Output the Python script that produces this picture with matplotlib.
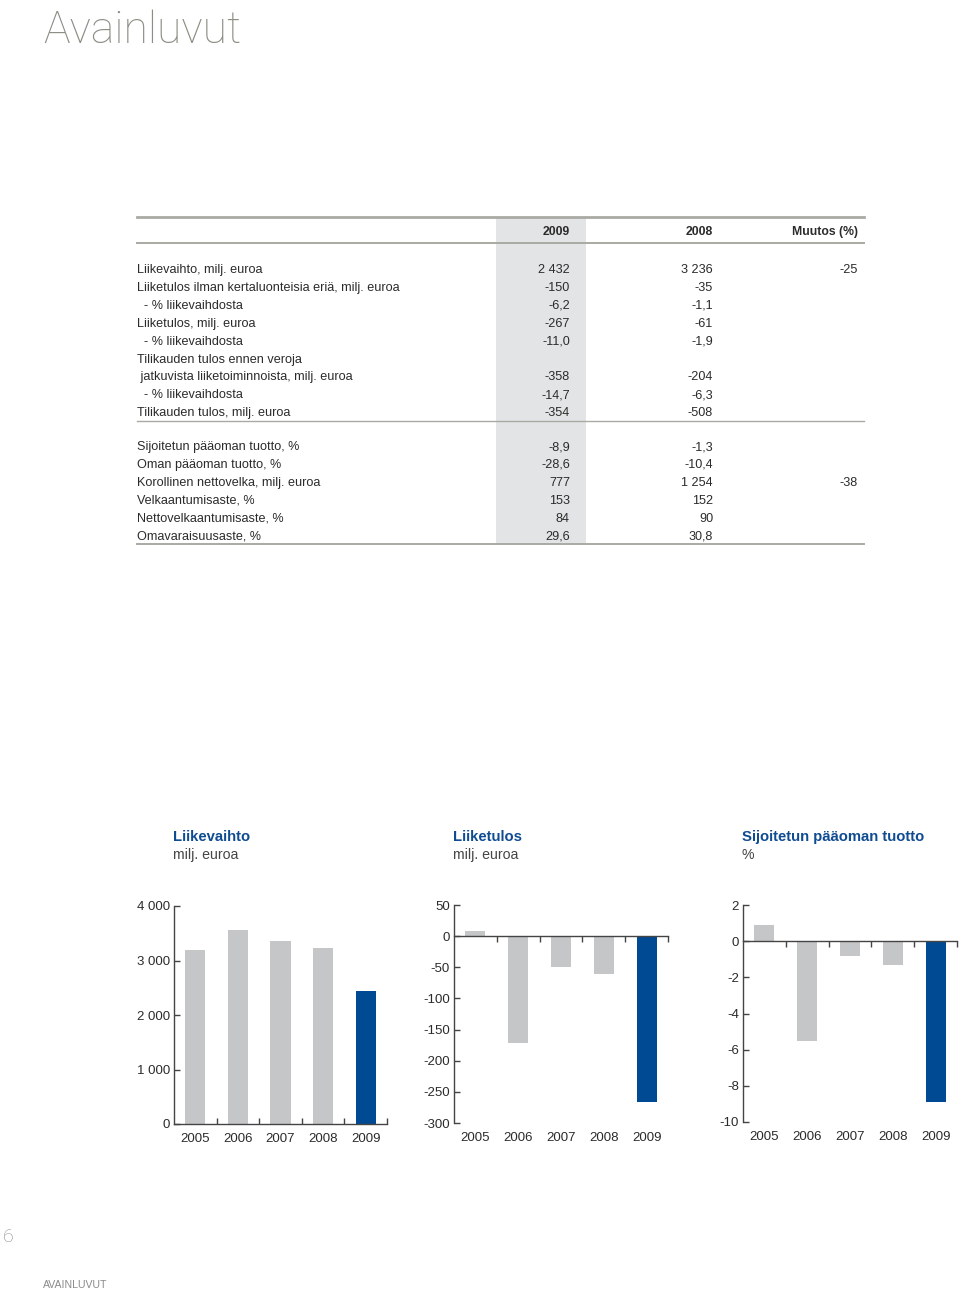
import numpy as np
import matplotlib
matplotlib.use('Agg')
import matplotlib.pyplot as plt
import matplotlib.transforms as mtransforms
from matplotlib.ticker import FuncFormatter

# 表格数据
rivit_1 = ["Liikevaihto, milj. euroa",
           "Liiketulos ilman kertaluonteisia eriä, milj. euroa",
           "  - % liikevaihdosta",
           "Liiketulos, milj. euroa",
           "  - % liikevaihdosta",
           "Tilikauden tulos ennen veroja",
           " jatkuvista liiketoiminnoista, milj. euroa",
           "  - % liikevaihdosta",
           "Tilikauden tulos, milj. euroa"]
arvot_2009_1 = ["2 432", "-150", "-6,2", "-267", "-11,0", "", "-358", "-14,7", "-354"]
arvot_2008_1 = ["3 236", "-35", "-1,1", "-61", "-1,9", "", "-204", "-6,3", "-508"]
muutos_1 = ["-25", "", "", "", "", "", "", "", ""]

rivit_2 = ["Sijoitetun pääoman tuotto, %",
           "Oman pääoman tuotto, %",
           "Korollinen nettovelka, milj. euroa",
           "Velkaantumisaste, %",
           "Nettovelkaantumisaste, %",
           "Omavaraisuusaste, %"]
arvot_2009_2 = ["-8,9", "-28,6", "777", "153", "84", "29,6"]
arvot_2008_2 = ["-1,3", "-10,4", "1 254", "152", "90", "30,8"]
muutos_2 = ["", "", "-38", "", "", ""]

otsikot = ["2009", "2008", "Muutos (%)"]

# 图表数据
vuodet = ["2005", "2006", "2007", "2008", "2009"]
liikevaihto = [3195, 3565, 3350, 3236, 2432]
liiketulos = [9, -172, -49, -61, -267]
sijoitetun = [0.9, -5.5, -0.8, -1.3, -8.9]

GREY_BAR = '#c5c6c8'
BLUE = '#004a93'
TITLE_BLUE = '#0f4c92'
TXT = '#2b2b2b'
LINE = '#a9aaa4'

W, H = 960, 1294
fig = plt.figure(figsize=(W / 100, H / 100), dpi=100)
fig.patch.set_facecolor('white')

bg = fig.add_axes([0, 0, 1, 1])
bg.set_xlim(0, W)
bg.set_ylim(H, 0)
bg.axis('off')

font = ['Liberation Sans', 'DejaVu Sans']

# 标题和页脚
bg.text(43, 43, "Avainluvut", fontsize=32, family=['Roboto', 'DejaVu Sans'],
        weight='light', color='#8c8e84', va='baseline', ha='left')
bg.text(3, 1237, "6", fontsize=14, family=['Roboto', 'DejaVu Sans'], weight='light',
        color='#8a8a8a', va='center', ha='left')
bg.text(43, 1285, "AVAINLUVUT", fontsize=7.6, family=font, color='#8a8a8a',
        va='center', ha='left')

# 表格
x0, x1 = 137, 864
col_x = [570, 713, 858]
bg.add_patch(plt.Rectangle((496, 217), 90, 327, color='#e3e4e5', lw=0, zorder=0))
bg.plot([x0, x1], [217, 217], color=LINE, lw=2.0)
bg.plot([x0, x1], [243, 243], color=LINE, lw=1.4)
for txt, cx in zip(otsikot, col_x):
    bg.text(cx, 232, txt, fontsize=8.8, family=font, weight='bold', color=TXT,
            ha='right', va='center')


def draw_block(labels, v1, v2, v3, y_start):
    for i, lab in enumerate(labels):
        y = y_start + i * 17.9
        bg.text(x0, y, lab, fontsize=9.1, family=font, color=TXT, ha='left', va='center')
        for val, cx in zip([v1[i], v2[i], v3[i]], col_x):
            if val:
                bg.text(cx, y, val, fontsize=9.1, family=font, color=TXT,
                        ha='right', va='center')


draw_block(rivit_1, arvot_2009_1, arvot_2008_1, muutos_1, 270)
bg.plot([x0, x1], [420.5, 420.5], color=LINE, lw=1.0)
draw_block(rivit_2, arvot_2009_2, arvot_2008_2, muutos_2, 447)
bg.plot([x0, x1], [544, 544], color=LINE, lw=1.4)


def thousands(v, pos):
    return f"{int(v):,}".replace(",", " ")


def make_chart(left, right, top, bottom, values, ylim, yticks, title, sub,
               zero_axis, fmt=None):
    ax = fig.add_axes([left / W, 1 - bottom / H, (right - left) / W, (bottom - top) / H])
    x = np.arange(len(values))
    colors = [GREY_BAR] * (len(values) - 1) + [BLUE]
    ax.bar(x, values, width=0.47, color=colors, zorder=2)
    ax.set_xlim(-0.5, len(values) - 0.5)
    ax.set_ylim(*ylim)
    ax.set_yticks(yticks)
    if fmt is not None:
        ax.yaxis.set_major_formatter(FuncFormatter(fmt))
    else:
        ax.yaxis.set_major_formatter(FuncFormatter(lambda v, p: f"{int(v)}"))
    ax.set_xticks(np.arange(len(values)) + 0.5)
    ax.set_xticklabels([])
    for s in ['top', 'right']:
        ax.spines[s].set_visible(False)
    for s in ['left', 'bottom']:
        ax.spines[s].set_color('#444444')
        ax.spines[s].set_linewidth(1.0)
    if zero_axis:
        ax.spines['bottom'].set_position(('data', 0))
        ax.tick_params(axis='x', direction='out', length=4, width=1, color='#444444')
    else:
        ax.tick_params(axis='x', direction='in', length=4, width=1, color='#444444')
    ax.tick_params(axis='y', direction='in', length=4, width=1, color='#444444',
                   pad=3, labelsize=9.5, labelcolor=TXT)
    for lab in ax.get_yticklabels():
        lab.set_family(font)
    ax.patch.set_alpha(0)
    trans = mtransforms.blended_transform_factory(ax.transData, ax.transAxes)
    for i, yr in enumerate(vuodet):
        ax.text(i, -15 / (bottom - top), yr, transform=trans, ha='center', va='center',
                fontsize=9.5, family=font, color=TXT)
    bg.text(left - 1, 837, title, fontsize=10.7, family=font, weight='bold',
            color=TITLE_BLUE, ha='left', va='center')
    bg.text(left - 1, 855, sub, fontsize=10.2, family=font, color='#444444',
            ha='left', va='center')
    return ax


make_chart(174, 387, 906, 1124, liikevaihto, (0, 4000), [0, 1000, 2000, 3000, 4000],
           "Liikevaihto", "milj. euroa", False, thousands)
make_chart(454, 668, 905, 1123, liiketulos, (-300, 50), list(range(-300, 51, 50)),
           "Liiketulos", "milj. euroa", True)
make_chart(743, 957, 905, 1122, sijoitetun, (-10, 2), list(range(-10, 3, 2)),
           "Sijoitetun pääoman tuotto", "%", True)

fig.savefig('out.png', dpi=100)
